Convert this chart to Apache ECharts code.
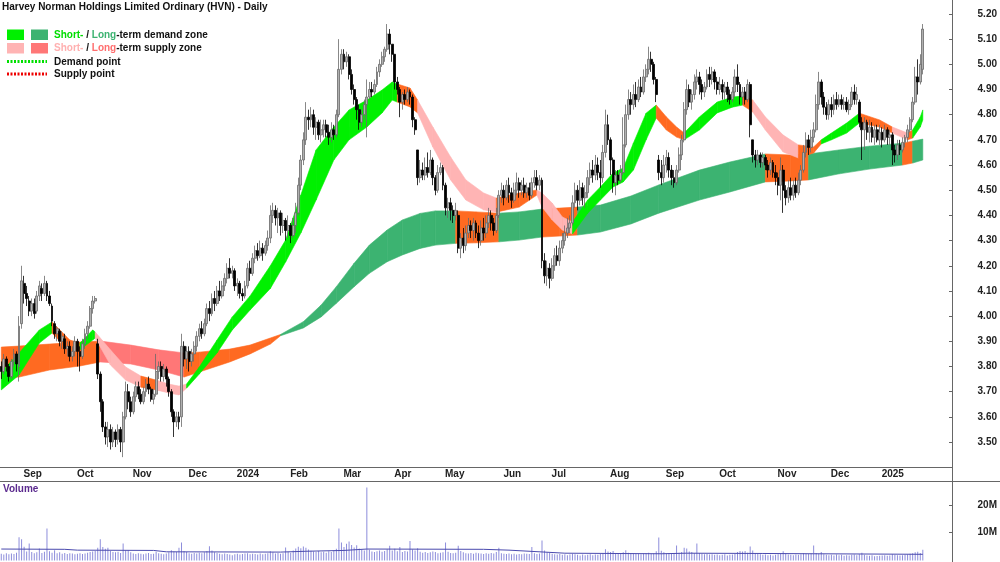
<!DOCTYPE html>
<html lang="en">
<head>
<meta charset="UTF-8">
<title>HVN - Daily</title>
<script src="https://cdn.jsdelivr.net/npm/echarts@6/dist/echarts.min.js"></script>
<style>
  html, body { margin: 0; padding: 0; background: #fff; }
  #chart { width: 1000px; height: 562px; }
</style>
</head>
<body>
<div id="chart"></div>
<script type="text/javascript">
// ---- data ----
var firstDay = '2023-08-22';
var lastDay = '2025-01-28';
var holidays = ['2023-12-25', '2023-12-26', '2024-01-01', '2024-01-26', '2024-03-29', '2024-04-01',
  '2024-04-25', '2024-06-10', '2024-12-25', '2024-12-26', '2025-01-01', '2025-01-27'];
var monthNames = ['Jan', 'Feb', 'Mar', 'Apr', 'May', 'Jun', 'Jul', 'Aug', 'Sep', 'Oct', 'Nov', 'Dec'];
var padDays = 11;

// [open, close, low, high]
var ohlc = [
  // Aug 2023
  [3.80,3.78,3.75,3.82],[3.78,3.83,3.77,3.85],[3.83,3.80,3.78,3.84],[3.80,3.76,3.74,3.81],
  [3.76,3.82,3.75,3.83],[3.82,3.85,3.80,3.87],[3.85,3.81,3.78,3.86],[3.80,3.96,3.74,4.00],
  // Sep
  [3.97,4.14,3.95,4.20],[4.13,4.09,4.05,4.16],[4.09,4.07,4.04,4.12],[4.06,4.02,4.00,4.08],
  [4.02,4.05,4.00,4.07],[4.05,4.01,3.99,4.07],[4.02,4.08,4.01,4.10],[4.08,4.12,4.06,4.14],
  [4.11,4.09,4.06,4.13],[4.09,4.13,4.08,4.16],[4.13,4.08,4.06,4.14],[4.08,4.05,4.04,4.10],
  [4.04,3.98,3.96,4.05],[3.97,3.93,3.91,3.98],[3.93,3.95,3.90,3.96],[3.94,3.90,3.88,3.95],
  [3.90,3.92,3.87,3.94],[3.91,3.87,3.85,3.93],[3.87,3.88,3.84,3.90],[3.88,3.84,3.82,3.90],
  [3.84,3.86,3.82,3.88],
  // Oct
  [3.86,3.90,3.84,3.92],[3.90,3.86,3.80,3.91],[3.86,3.84,3.78,3.88],[3.84,3.89,3.83,3.91],
  [3.89,3.93,3.87,3.95],[3.93,3.96,3.91,3.98],[3.96,4.03,3.95,4.04],[4.03,4.06,4.01,4.08],
  [4.06,4.07,4.05,4.08],[3.89,3.77,3.75,3.91],[3.77,3.66,3.62,3.78],[3.66,3.56,3.54,3.67],
  [3.56,3.52,3.49,3.58],[3.52,3.55,3.48,3.58],[3.55,3.50,3.47,3.57],[3.50,3.54,3.48,3.56],
  [3.54,3.51,3.48,3.55],[3.51,3.55,3.49,3.57],[3.55,3.50,3.46,3.56],[3.50,3.60,3.44,3.62],
  [3.60,3.70,3.59,3.74],[3.70,3.66,3.63,3.73],
  // Nov
  [3.66,3.62,3.60,3.68],[3.62,3.68,3.61,3.70],[3.68,3.72,3.66,3.74],[3.72,3.69,3.67,3.74],
  [3.69,3.66,3.65,3.71],[3.66,3.70,3.65,3.72],[3.70,3.73,3.68,3.75],[3.73,3.71,3.69,3.76],
  [3.71,3.67,3.66,3.72],[3.67,3.69,3.65,3.71],[3.69,3.78,3.68,3.85],[3.78,3.80,3.75,3.82],
  [3.80,3.76,3.74,3.82],[3.76,3.79,3.74,3.81],[3.79,3.75,3.72,3.80],[3.75,3.70,3.68,3.76],
  [3.70,3.62,3.60,3.71],[3.62,3.58,3.52,3.63],[3.58,3.60,3.56,3.62],[3.60,3.58,3.55,3.62],
  [3.60,3.88,3.56,3.93],[3.88,3.83,3.80,3.90],
  // Dec
  [3.83,3.86,3.79,3.88],[3.86,3.82,3.78,3.88],[3.82,3.85,3.80,3.87],[3.85,3.88,3.82,3.90],
  [3.88,3.92,3.86,3.94],[3.92,3.95,3.90,3.97],[3.95,3.93,3.91,3.98],[3.93,3.97,3.92,3.99],
  [3.97,4.03,3.96,4.05],[4.03,4.01,3.98,4.06],[4.01,4.07,4.00,4.09],[4.07,4.05,4.02,4.10],
  [4.05,4.10,4.04,4.12],[4.10,4.08,4.06,4.14],[4.08,4.12,4.07,4.14],[4.12,4.15,4.10,4.17],
  [4.15,4.19,4.13,4.21],[4.19,4.17,4.15,4.23],[4.17,4.18,4.15,4.20],
  // Jan 2024
  [4.18,4.12,4.10,4.19],[4.12,4.13,4.08,4.15],[4.13,4.09,4.07,4.14],[4.09,4.08,4.06,4.11],
  [4.08,4.12,4.07,4.14],[4.12,4.19,4.11,4.21],[4.19,4.17,4.14,4.22],[4.17,4.23,4.16,4.25],
  [4.23,4.26,4.21,4.28],[4.26,4.24,4.22,4.29],[4.24,4.27,4.23,4.30],[4.27,4.25,4.22,4.29],
  [4.25,4.28,4.24,4.30],[4.28,4.31,4.26,4.34],[4.31,4.40,4.29,4.44],[4.40,4.42,4.37,4.45],
  [4.42,4.39,4.36,4.44],[4.39,4.41,4.33,4.43],[4.41,4.36,4.32,4.42],[4.36,4.38,4.33,4.41],
  [4.38,4.34,4.30,4.39],
  // Feb
  [4.34,4.36,4.31,4.40],[4.36,4.32,4.29,4.37],[4.32,4.36,4.31,4.39],[4.36,4.41,4.33,4.45],
  [4.41,4.52,4.40,4.55],[4.52,4.62,4.50,4.64],[4.62,4.70,4.60,4.73],[4.70,4.79,4.68,4.85],
  [4.79,4.78,4.74,4.82],[4.78,4.80,4.75,4.83],[4.80,4.75,4.72,4.82],[4.75,4.77,4.70,4.79],
  [4.77,4.72,4.70,4.78],[4.72,4.74,4.69,4.78],[4.74,4.76,4.71,4.78],[4.76,4.73,4.71,4.78],
  [4.73,4.71,4.68,4.76],[4.71,4.74,4.69,4.77],[4.74,4.72,4.70,4.76],[4.72,4.80,4.71,4.82],
  [4.80,4.98,4.79,5.10],
  // Mar
  [4.98,5.04,4.96,5.06],[5.04,5.01,4.98,5.06],[5.01,5.03,4.99,5.05],[5.03,4.96,4.94,5.04],
  [4.96,4.90,4.88,4.98],[4.90,4.86,4.84,4.92],[4.86,4.82,4.78,4.87],[4.82,4.77,4.74,4.84],
  [4.77,4.80,4.75,4.82],[4.80,4.84,4.78,4.86],[4.84,4.87,4.71,4.94],[4.87,4.90,4.86,4.93],
  [4.90,4.89,4.87,4.93],[4.89,4.92,4.88,4.94],[4.92,4.97,4.91,4.99],[4.97,5.00,4.95,5.02],
  [5.00,5.03,4.99,5.05],[5.03,5.06,5.01,5.07],[5.06,5.12,5.05,5.16],[5.12,5.08,5.04,5.14],
  // Apr
  [5.08,5.04,5.01,5.08],[5.04,4.93,4.90,5.04],[4.93,4.90,4.88,4.95],[4.90,4.85,4.79,4.91],
  [4.85,4.88,4.82,4.89],[4.88,4.86,4.84,4.90],[4.86,4.89,4.85,4.91],[4.89,4.87,4.84,4.90],
  [4.87,4.78,4.75,4.88],[4.78,4.74,4.72,4.79],[4.66,4.55,4.52,4.66],[4.55,4.58,4.53,4.62],
  [4.58,4.56,4.54,4.61],[4.56,4.59,4.54,4.63],[4.59,4.57,4.55,4.65],[4.57,4.62,4.56,4.66],
  [4.62,4.55,4.52,4.63],[4.55,4.50,4.48,4.56],[4.50,4.57,4.49,4.60],[4.57,4.59,4.56,4.61],
  // May
  [4.59,4.52,4.50,4.60],[4.52,4.43,4.40,4.53],[4.43,4.45,4.39,4.47],[4.45,4.42,4.38,4.47],
  [4.42,4.40,4.37,4.44],[4.40,4.42,4.38,4.45],[4.40,4.27,4.25,4.42],[4.27,4.31,4.23,4.33],
  [4.31,4.28,4.25,4.35],[4.28,4.33,4.26,4.36],[4.33,4.36,4.31,4.39],[4.36,4.34,4.31,4.38],
  [4.34,4.37,4.30,4.39],[4.37,4.33,4.31,4.38],[4.33,4.30,4.27,4.36],[4.30,4.35,4.28,4.38],
  [4.35,4.33,4.30,4.39],[4.33,4.37,4.31,4.40],[4.37,4.40,4.35,4.43],[4.40,4.37,4.34,4.42],
  [4.37,4.34,4.32,4.39],[4.34,4.40,4.33,4.43],[4.40,4.48,4.39,4.50],
  // Jun
  [4.48,4.50,4.45,4.53],[4.50,4.47,4.44,4.52],[4.47,4.52,4.46,4.54],[4.52,4.49,4.45,4.55],
  [4.49,4.46,4.43,4.51],[4.46,4.50,4.45,4.53],[4.50,4.53,4.48,4.57],[4.53,4.50,4.47,4.55],
  [4.50,4.52,4.48,4.54],[4.52,4.49,4.47,4.55],[4.49,4.51,4.47,4.53],[4.51,4.48,4.46,4.53],
  [4.48,4.53,4.47,4.55],[4.53,4.55,4.51,4.58],[4.55,4.52,4.50,4.58],[4.52,4.54,4.50,4.56],
  [4.54,4.22,4.19,4.55],[4.22,4.16,4.13,4.25],[4.16,4.19,4.12,4.22],
  // Jul
  [4.19,4.15,4.11,4.21],[4.15,4.20,4.14,4.23],[4.20,4.24,4.18,4.27],[4.24,4.22,4.20,4.28],
  [4.22,4.27,4.20,4.30],[4.27,4.30,4.25,4.33],[4.30,4.33,4.28,4.36],[4.33,4.35,4.31,4.39],
  [4.35,4.37,4.33,4.40],[4.37,4.45,4.36,4.48],[4.45,4.50,4.43,4.53],[4.50,4.46,4.42,4.52],
  [4.46,4.51,4.44,4.54],[4.51,4.47,4.44,4.53],[4.47,4.49,4.43,4.52],[4.49,4.55,4.47,4.58],
  [4.55,4.58,4.52,4.61],[4.58,4.56,4.53,4.62],[4.56,4.60,4.54,4.64],[4.60,4.57,4.54,4.63],
  [4.57,4.55,4.51,4.62],[4.55,4.65,4.53,4.68],[4.65,4.76,4.63,4.82],
  // Aug
  [4.76,4.70,4.68,4.80],[4.70,4.62,4.56,4.71],[4.62,4.53,4.49,4.63],[4.53,4.56,4.48,4.58],
  [4.56,4.54,4.52,4.58],[4.54,4.57,4.53,4.60],[4.57,4.68,4.56,4.79],[4.68,4.80,4.67,4.84],
  [4.80,4.86,4.78,4.90],[4.86,4.84,4.80,4.89],[4.84,4.88,4.82,4.92],[4.88,4.86,4.83,4.93],
  [4.86,4.91,4.85,4.94],[4.91,4.89,4.87,4.95],[4.89,4.95,4.88,4.98],[4.95,4.98,4.93,5.00],
  [4.98,5.02,4.96,5.07],[5.02,5.00,4.97,5.05],[5.00,4.94,4.92,5.01],[4.94,4.88,4.85,4.95],
  [4.62,4.57,4.54,4.64],[4.57,4.55,4.52,4.62],
  // Sep
  [4.55,4.60,4.53,4.64],[4.60,4.63,4.57,4.66],[4.63,4.58,4.55,4.65],[4.58,4.55,4.52,4.60],
  [4.55,4.53,4.51,4.58],[4.53,4.58,4.52,4.60],[4.58,4.64,4.57,4.67],[4.64,4.70,4.62,4.72],
  [4.70,4.82,4.69,4.85],[4.82,4.90,4.80,4.94],[4.90,4.85,4.83,4.92],[4.85,4.88,4.82,4.90],
  [4.88,4.93,4.86,4.96],[4.93,4.95,4.90,4.98],[4.95,4.92,4.88,4.97],[4.92,4.89,4.86,4.94],
  [4.89,4.91,4.87,4.93],[4.91,4.96,4.90,4.98],[4.96,4.94,4.91,4.99],[4.94,4.97,4.92,4.99],
  [4.97,4.93,4.90,4.98],
  // Oct
  [4.93,4.90,4.88,4.95],[4.90,4.92,4.88,4.95],[4.92,4.89,4.86,4.94],[4.89,4.91,4.86,4.93],
  [4.91,4.88,4.85,4.93],[4.88,4.86,4.84,4.90],[4.86,4.89,4.85,4.91],[4.89,4.95,4.87,4.98],
  [4.95,4.92,4.89,5.00],[4.92,4.87,4.84,4.93],[4.87,4.89,4.84,4.91],[4.89,4.86,4.84,4.91],
  [4.86,4.92,4.85,4.94],[4.92,4.76,4.71,4.93],[4.70,4.64,4.61,4.70],[4.64,4.62,4.59,4.66],
  [4.62,4.64,4.60,4.66],[4.64,4.61,4.59,4.65],[4.61,4.63,4.59,4.65],[4.63,4.60,4.58,4.64],
  [4.60,4.58,4.55,4.62],[4.58,4.61,4.56,4.63],[4.61,4.57,4.55,4.62],
  // Nov
  [4.57,4.55,4.52,4.60],[4.55,4.52,4.48,4.57],[4.52,4.58,4.46,4.63],[4.58,4.50,4.41,4.60],
  [4.50,4.47,4.44,4.52],[4.47,4.51,4.45,4.54],[4.51,4.48,4.46,4.55],[4.48,4.52,4.46,4.54],
  [4.52,4.49,4.47,4.55],[4.49,4.54,4.48,4.57],[4.54,4.58,4.52,4.60],[4.58,4.65,4.57,4.68],
  [4.65,4.70,4.63,4.73],[4.70,4.67,4.64,4.72],[4.67,4.71,4.65,4.74],[4.71,4.74,4.69,4.77],
  [4.74,4.84,4.73,4.88],[4.84,4.93,4.82,4.97],[4.93,4.87,4.84,4.94],[4.87,4.83,4.80,4.89],
  [4.83,4.80,4.78,4.85],
  // Dec
  [4.80,4.84,4.78,4.86],[4.84,4.82,4.79,4.87],[4.82,4.86,4.80,4.88],[4.86,4.84,4.82,4.89],
  [4.84,4.86,4.83,4.88],[4.86,4.84,4.82,4.88],[4.84,4.85,4.82,4.87],[4.85,4.82,4.81,4.87],
  [4.82,4.84,4.80,4.86],[4.84,4.89,4.83,4.91],[4.89,4.86,4.84,4.92],[4.86,4.88,4.84,4.91],
  [4.85,4.77,4.75,4.86],[4.77,4.74,4.62,4.79],[4.74,4.77,4.66,4.79],[4.77,4.73,4.70,4.78],
  [4.73,4.75,4.69,4.78],[4.75,4.71,4.69,4.77],[4.71,4.74,4.68,4.76],[4.74,4.70,4.69,4.76],
  // Jan 2025
  [4.70,4.73,4.68,4.76],[4.73,4.70,4.67,4.75],[4.70,4.74,4.69,4.76],[4.74,4.71,4.68,4.75],
  [4.71,4.72,4.68,4.74],[4.72,4.66,4.60,4.73],[4.66,4.64,4.61,4.68],[4.64,4.68,4.62,4.70],
  [4.68,4.66,4.64,4.70],[4.66,4.69,4.65,4.71],[4.69,4.71,4.67,4.72],[4.71,4.74,4.69,4.76],
  [4.74,4.78,4.73,4.79],[4.78,4.85,4.77,4.87],[4.85,4.95,4.84,4.99],[4.95,4.93,4.88,5.02],
  [4.93,5.00,4.92,5.04],[4.98,5.14,4.96,5.16]
];

// volume, millions of shares
var volume = [
  2.4,2.1,2.6,2.2,2.5,2.3,2.8,8.4,
  7.6,4.9,3.2,6.1,3.0,2.6,2.9,4.3,2.7,3.1,11.5,3.3,2.8,3.7,2.6,2.9,2.4,2.7,2.3,2.6,2.5,
  2.2,2.4,2.6,2.3,2.5,2.8,3.0,3.2,3.4,4.6,7.6,4.8,4.2,4.6,3.4,3.0,2.9,3.1,2.7,6.1,3.6,3.7,
  2.9,2.5,2.3,2.6,2.4,2.2,2.5,2.7,2.3,2.4,3.1,2.6,2.4,2.2,2.5,2.9,3.7,3.2,3.0,4.6,6.5,3.4,
  3.0,2.6,2.4,2.7,2.5,2.8,2.6,2.9,3.4,5.1,3.6,2.9,2.7,2.4,2.2,2.5,2.3,2.1,1.9,
  2.2,2.4,2.1,2.3,2.5,2.6,2.2,2.4,2.3,2.1,2.5,2.2,2.4,2.6,3.3,2.9,2.5,2.7,2.4,2.6,4.7,
  3.1,2.8,3.6,4.3,4.9,4.4,5.0,4.6,3.9,3.5,3.2,3.0,3.4,2.9,3.1,2.8,3.3,3.0,3.6,4.2,11.5,
  6.5,4.8,6.0,6.8,5.6,4.7,5.5,4.3,3.8,3.6,26.3,3.8,3.2,3.0,3.3,3.6,3.1,3.4,4.0,5.3,
  3.6,4.2,3.3,4.8,3.0,3.4,3.2,7.0,3.9,3.6,4.4,3.1,2.8,3.0,2.7,2.9,3.2,3.0,2.6,2.8,
  2.9,6.5,3.1,2.7,2.6,2.8,5.3,3.4,2.9,2.6,2.5,2.7,2.4,2.8,2.6,2.5,2.3,2.6,2.4,2.7,2.5,3.0,4.6,
  2.6,2.4,2.3,2.5,2.2,2.4,2.1,2.3,2.2,2.5,2.4,2.3,4.8,2.6,2.3,2.5,7.2,3.6,2.9,
  2.7,2.4,2.2,2.1,2.3,2.0,2.2,1.9,2.1,2.4,2.2,2.0,1.8,2.1,1.9,2.0,2.2,1.9,2.1,2.0,2.3,2.6,4.0,
  3.2,3.0,3.4,2.6,2.4,2.5,2.9,3.7,2.8,2.6,2.5,2.3,2.4,2.2,2.5,2.6,2.8,2.4,2.5,3.3,8.3,3.5,
  2.9,2.5,2.7,2.4,2.6,5.4,2.8,3.0,4.6,4.3,3.2,3.0,2.6,6.1,2.7,2.4,2.2,2.3,2.1,2.2,2.0,
  2.1,1.9,2.0,2.2,1.8,2.0,2.1,2.3,3.0,3.4,3.2,3.4,2.8,5.0,3.6,2.6,2.4,2.2,2.0,2.1,1.9,2.0,1.8,
  2.0,2.2,2.3,3.3,2.5,2.1,2.0,1.9,2.1,2.0,2.2,2.6,2.4,2.3,2.5,5.4,2.7,2.4,3.0,2.2,2.0,
  1.9,2.0,1.8,2.1,1.9,2.0,1.7,1.9,1.8,2.0,2.1,1.9,2.2,2.8,2.0,1.8,1.7,1.9,1.5,1.6,
  1.7,1.8,1.9,1.7,1.8,2.2,2.0,1.9,1.8,1.9,2.0,2.1,2.4,2.6,2.9,3.1,2.7,3.8
];

// volume average line read at points: [day index, millions]
var volumeAvg = [[0,4.1],[25,4.0],[30,3.7],[60,3.6],[65,3.1],[110,3.0],[120,3.3],[135,3.6],
  [144,4.1],[190,4.0],[200,3.7],[222,2.6],[260,2.4],[270,2.6],[300,2.5],[320,2.4],[363,2.2]];

// zone edges read at points: [day index, upper, lower, colour key]
var longZone = [
  [0,3.877,3.754,'o'],[7,3.881,3.758,'o'],[19,3.889,3.786,'o'],[31,3.897,3.802,'o'],
  [39,3.901,3.818,'P'],[51,3.885,3.810,'P'],[62,3.866,3.786,'P'],[72,3.854,3.758,'o'],
  [78,3.857,3.778,'o'],[90,3.869,3.818,'o'],[98,3.885,3.850,'o'],[106,3.913,3.889,'o'],
  [110,3.927,3.922,'G'],[119,3.978,3.953,'G'],[126,4.044,3.997,'G'],[132,4.117,4.051,'G'],
  [139,4.210,4.117,'G'],[145,4.282,4.170,'G'],[152,4.342,4.216,'G'],[158,4.382,4.243,'G'],
  [165,4.408,4.269,'G'],[171,4.418,4.282,'G'],
  [179,4.418,4.289,'o'],[187,4.414,4.291,'o'],[196,4.409,4.295,'G'],[204,4.414,4.302,'G'],
  [213,4.425,4.314,'o'],[220,4.429,4.318,'o'],[227,4.433,4.322,'G'],[236,4.441,4.334,'G'],
  [248,4.477,4.366,'G'],[259,4.521,4.409,'G'],[275,4.580,4.461,'G'],[287,4.612,4.493,'G'],
  [301,4.644,4.533,'o'],[311,4.640,4.537,'o'],[318,4.644,4.541,'G'],[330,4.660,4.565,'G'],
  [342,4.675,4.584,'G'],[355,4.687,4.600,'o'],[359,4.695,4.608,'G'],[363,4.703,4.620,'G']
];
var shortZone = [
  [0,3.778,3.707,'g'],[7,3.854,3.766,'g'],[15,3.945,3.893,'g'],[20,3.977,3.933,'o'],
  [27,3.905,3.858,'o'],[31,3.893,3.866,'g'],[36,3.945,3.905,'g'],[37,3.937,3.913,'p'],
  [43,3.866,3.806,'p'],[49,3.798,3.746,'p'],[55,3.762,3.718,'o'],[61,3.746,3.707,'p'],
  [66,3.730,3.695,'p'],[70,3.722,3.687,'p'],[73,3.730,3.714,'g'],[78,3.798,3.770,'g'],
  [85,3.905,3.854,'g'],[91,3.997,3.945,'g'],[98,4.080,4.024,'g'],[106,4.200,4.110,'g'],
  [112,4.302,4.215,'g'],[118,4.481,4.330,'g'],[124,4.660,4.461,'g'],[131,4.751,4.620,'g'],
  [137,4.819,4.700,'g'],[144,4.858,4.751,'g'],[150,4.898,4.807,'g'],[154,4.930,4.858,'g'],
  [156,4.922,4.850,'o'],[161,4.906,4.831,'o'],[164,4.858,4.807,'p'],[170,4.751,4.672,'p'],
  [177,4.632,4.541,'p'],[183,4.541,4.461,'p'],[190,4.489,4.422,'p'],[195,4.469,4.413,'o'],
  [204,4.489,4.433,'o'],[211,4.501,4.481,'p'],[213,4.489,4.433,'p'],[217,4.449,4.382,'p'],
  [221,4.394,4.342,'p'],[225,4.374,4.326,'g'],[231,4.461,4.409,'g'],[236,4.513,4.461,'g'],
  [241,4.568,4.513,'g'],[245,4.588,4.533,'g'],[249,4.687,4.580,'g'],[254,4.806,4.700,'g'],
  [258,4.838,4.787,'o'],[262,4.791,4.739,'o'],[266,4.751,4.711,'o'],[269,4.727,4.700,'g'],
  [275,4.791,4.739,'g'],[282,4.850,4.807,'g'],[288,4.870,4.830,'g'],[292,4.874,4.838,'o'],
  [296,4.858,4.811,'p'],[301,4.791,4.739,'p'],[308,4.719,4.652,'p'],[314,4.680,4.628,'o'],
  [320,4.672,4.648,'o'],[323,4.700,4.684,'g'],[327,4.727,4.700,'g'],[333,4.767,4.727,'g'],
  [338,4.806,4.767,'o'],[346,4.779,4.751,'o'],[351,4.751,4.727,'p'],[357,4.727,4.700,'o'],
  [359,4.739,4.707,'g'],[362,4.791,4.751,'g'],[363,4.819,4.779,'g']
];

var zoneColors = { g: '#00f000', G: '#3cb371', p: '#ffb4b4', P: '#ff7777', o: '#ff6a21' };
var FONT = '"Liberation Sans", Arial, sans-serif';

// ---- trading days ----
function ymd(d) { return d.toISOString().slice(0, 10); }
var days = [];
var cur = new Date(firstDay + 'T00:00:00Z');
while (ymd(cur) <= lastDay) {
  var wd = cur.getUTCDay();
  if (wd !== 0 && wd !== 6 && holidays.indexOf(ymd(cur)) < 0) days.push(ymd(cur));
  cur.setUTCDate(cur.getUTCDate() + 1);
}
var cats = days.slice();
for (var k = 0; k < padDays; k++) cats.push('pad' + k);
var monthStart = cats.map(function (v, i) {
  return i > 0 && i < days.length && v.slice(5, 7) !== cats[i - 1].slice(5, 7);
});
var avgLine = cats.map(function () { return null; });
volumeAvg.forEach(function (p) { avgLine[p[0]] = p[1]; });

function zoneSeries(zone, z) {
  return {
    type: 'custom', xAxisIndex: 0, yAxisIndex: 0, z: z, silent: true, clip: true,
    data: zone.map(function (p) { return [p[0], p[1], p[2]]; }),
    encode: { x: 0, y: [1, 2] },
    renderItem: function (params, api) {
      var k = params.dataIndex;
      if (k >= zone.length - 1) return { type: 'group', children: [] };
      var a = zone[k], b = zone[k + 1];
      var c = zoneColors[a[3]];
      return {
        type: 'polygon',
        shape: { points: [api.coord([a[0], a[1]]), api.coord([b[0], b[1]]),
                          api.coord([b[0], b[2]]), api.coord([a[0], a[2]])] },
        style: { fill: c, stroke: c, lineWidth: 0.6 }
      };
    }
  };
}

var chart = echarts.init(document.getElementById('chart'));
var option = {
  animation: false,
  backgroundColor: '#fff',
  textStyle: { fontFamily: FONT },
  grid: [
    { left: 0, right: 48, top: 0, height: 467.2 },
    { left: 0, right: 48, top: 481, height: 79.4 }
  ],
  xAxis: [
    {
      type: 'category', gridIndex: 0, data: cats, boundaryGap: true,
      axisLine: { lineStyle: { color: '#666', width: 1 } },
      axisTick: { interval: function (i) { return monthStart[i]; }, length: 3, lineStyle: { color: '#555' } },
      axisLabel: {
        interval: function (i) { return monthStart[i]; },
        formatter: function (v) {
          var m = +v.slice(5, 7);
          return m === 1 ? v.slice(0, 4) : monthNames[m - 1];
        },
        align: 'left', margin: 2, padding: [0, 0, 0, 2],
        fontFamily: FONT, fontSize: 10, fontWeight: 'bold', color: '#222'
      },
      splitLine: { show: false }
    },
    {
      type: 'category', gridIndex: 1, data: cats, boundaryGap: true,
      axisLine: { show: false }, axisTick: { show: false }, axisLabel: { show: false },
      splitLine: { show: false }
    }
  ],
  yAxis: [
    {
      type: 'value', gridIndex: 0, position: 'right', min: 3.4, max: 5.2555, interval: 0.1,
      axisLine: { show: false },
      axisTick: { show: true, inside: true, length: 3, lineStyle: { color: '#666' } },
      axisLabel: {
        align: 'right', margin: 45, fontFamily: FONT, fontSize: 10, fontWeight: 'bold', color: '#222',
        showMinLabel: false, showMaxLabel: false,
        formatter: function (v) {
          var r = Math.round(v * 10);
          if (Math.abs(v * 10 - r) > 1e-6 || r <= 34 || r > 52) return '';
          return v.toFixed(2);
        }
      },
      splitLine: { show: false }
    },
    {
      type: 'value', gridIndex: 1, position: 'right', min: 0, max: 28.66, interval: 10,
      axisLine: { show: false },
      axisTick: { show: true, inside: true, length: 3, lineStyle: { color: '#666' } },
      axisLabel: {
        align: 'right', margin: 45, fontFamily: FONT, fontSize: 10, fontWeight: 'bold', color: '#222',
        showMinLabel: false, showMaxLabel: false,
        formatter: function (v) { return (v > 0 && Math.abs(v % 10) < 1e-6) ? v + 'M' : ''; }
      },
      splitLine: { show: false }
    }
  ],
  series: [
    zoneSeries(longZone, 1),
    zoneSeries(shortZone, 2),
    {
      type: 'candlestick', xAxisIndex: 0, yAxisIndex: 0, z: 3,
      data: ohlc, barWidth: 2.4,
      itemStyle: {
        color: '#b0b0b0', borderColor: '#6a6a6a', color0: '#000', borderColor0: '#000', borderWidth: 0.8
      }
    },
    {
      type: 'bar', xAxisIndex: 1, yAxisIndex: 1, data: volume, barWidth: 1,
      itemStyle: { color: '#8d8ddb' }
    },
    {
      type: 'line', xAxisIndex: 1, yAxisIndex: 1, data: avgLine, connectNulls: true,
      symbol: 'none', lineStyle: { color: '#4a4aae', width: 1 }, z: 4
    }
  ],
  graphic: [
    { type: 'line', shape: { x1: 952.5, y1: 0, x2: 952.5, y2: 562 }, style: { stroke: '#666', lineWidth: 1 }, z: 10 },
    { type: 'line', shape: { x1: 0, y1: 481.5, x2: 1000, y2: 481.5 }, style: { stroke: '#666', lineWidth: 1 }, z: 10 },
    { type: 'text', left: 2, top: 2, z: 10,
      style: { text: 'Harvey Norman Holdings Limited Ordinary (HVN) - Daily', font: 'bold 10px ' + FONT, fill: '#111' } },
    { type: 'rect', shape: { x: 7, y: 29.5, width: 17, height: 10.5 }, style: { fill: zoneColors.g }, z: 10 },
    { type: 'rect', shape: { x: 31, y: 29.5, width: 17, height: 10.5 }, style: { fill: zoneColors.G }, z: 10 },
    { type: 'rect', shape: { x: 7, y: 43, width: 17, height: 10.5 }, style: { fill: zoneColors.p }, z: 10 },
    { type: 'rect', shape: { x: 31, y: 43, width: 17, height: 10.5 }, style: { fill: zoneColors.P }, z: 10 },
    { type: 'line', shape: { x1: 7, y1: 61.5, x2: 47, y2: 61.5 }, style: { stroke: '#00e000', lineWidth: 3, lineDash: [2, 1.5] }, z: 10 },
    { type: 'line', shape: { x1: 7, y1: 74, x2: 47, y2: 74 }, style: { stroke: '#ee0000', lineWidth: 3, lineDash: [2, 1.5] }, z: 10 },
    { type: 'text', x: 54, y: 35, z: 10,
      style: {
        text: '{a|Short-}{k| / }{b|Long}{k|-term demand zone}', verticalAlign: 'middle',
        font: 'bold 10px ' + FONT, fill: '#111',
        rich: { a: { fill: '#00dd00', font: 'bold 10px ' + FONT }, b: { fill: '#3cb371', font: 'bold 10px ' + FONT },
                k: { fill: '#111', font: 'bold 10px ' + FONT } }
      } },
    { type: 'text', x: 54, y: 48.5, z: 10,
      style: {
        text: '{a|Short-}{k| / }{b|Long}{k|-term supply zone}', verticalAlign: 'middle',
        font: 'bold 10px ' + FONT, fill: '#111',
        rich: { a: { fill: '#ffb0b0', font: 'bold 10px ' + FONT }, b: { fill: '#ff6e6e', font: 'bold 10px ' + FONT },
                k: { fill: '#111', font: 'bold 10px ' + FONT } }
      } },
    { type: 'text', x: 54, y: 62, z: 10,
      style: { text: 'Demand point', verticalAlign: 'middle', font: 'bold 10px ' + FONT, fill: '#111' } },
    { type: 'text', x: 54, y: 74.5, z: 10,
      style: { text: 'Supply point', verticalAlign: 'middle', font: 'bold 10px ' + FONT, fill: '#111' } },
    { type: 'text', x: 3, y: 489, z: 10,
      style: { text: 'Volume', verticalAlign: 'middle', font: 'bold 10px ' + FONT, fill: '#5b2a8e' } }
  ]
};
chart.setOption(option);
</script>
</body>
</html>
